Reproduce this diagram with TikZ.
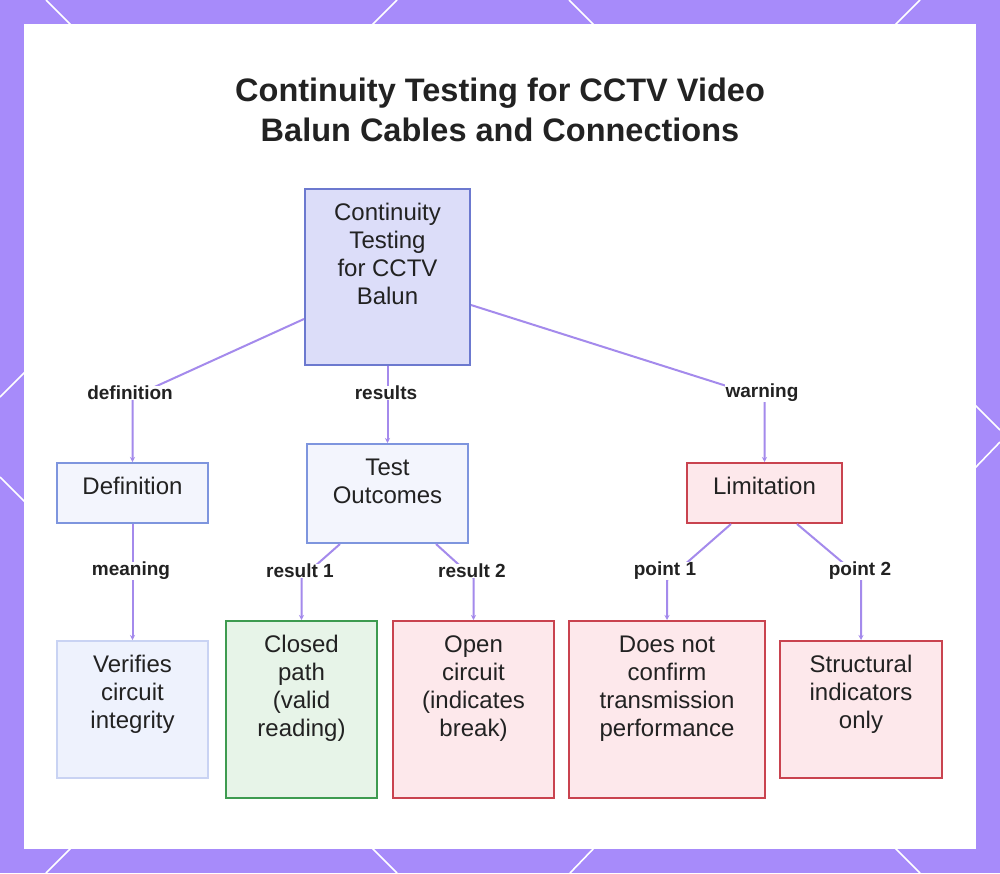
\documentclass[tikz,border=0pt]{standalone}
\usepackage{fontspec}
\setmainfont{Liberation Sans}
\usetikzlibrary{arrows.meta}
\definecolor{frame}{HTML}{A78BFA}
\definecolor{connc}{HTML}{A48AEC}
\definecolor{rootfill}{HTML}{DCDDF9}
\definecolor{rootdraw}{HTML}{6C79CF}
\definecolor{bluefill}{HTML}{F3F5FD}
\definecolor{bluedraw}{HTML}{7E95DE}
\definecolor{lightfill}{HTML}{EEF2FD}
\definecolor{lightdraw}{HTML}{C9D3F3}
\definecolor{redfill}{HTML}{FDE8EB}
\definecolor{reddraw}{HTML}{C9434F}
\definecolor{greenfill}{HTML}{E7F4E8}
\definecolor{greendraw}{HTML}{3E9B50}
\definecolor{txt}{HTML}{222222}
\newcommand\boxtxt[3]{\parbox[c][#2pt][t]{#1pt}{\centering\rule{0pt}{31.5pt}#3}}
\begin{document}
\begin{tikzpicture}[x=1pt,y=-1pt,
  bx/.style={anchor=north, inner sep=0pt, line width=2pt, text=txt,
    font=\fontsize{24}{28}\selectfont},
  rootbox/.style={bx, fill=rootfill, draw=rootdraw},
  bluebox/.style={bx, fill=bluefill, draw=bluedraw},
  lightbox/.style={bx, fill=lightfill, draw=lightdraw},
  redbox/.style={bx, fill=redfill, draw=reddraw},
  greenbox/.style={bx, fill=greenfill, draw=greendraw},
  conn/.style={draw=connc, line width=2pt, -{Stealth[length=5pt,width=5pt]}},
  lbl/.style={font=\fontsize{19}{21}\selectfont\bfseries, text=txt, fill=white, inner sep=0.5pt},
  deco/.style={draw=white, line width=1.6pt},
  ttl/.style={font=\fontsize{32.5}{40}\selectfont\bfseries, text=txt, align=center}]
\useasboundingbox (0,0) rectangle (1000,873);
\fill[frame] (0,0) rectangle (1000,873);
% border decoration
\draw[deco] (46,0) -- (72,26);
\draw[deco] (397,0) -- (371,26);
\draw[deco] (569,0) -- (595,26);
\draw[deco] (920,0) -- (894,26);
\draw[deco] (46,873) -- (72,847);
\draw[deco] (397,873) -- (371,847);
\draw[deco] (570,873) -- (595,847);
\draw[deco] (920,873) -- (894,847);
\draw[deco] (0,397) -- (26,371);
\draw[deco] (0,477) -- (26,503);
\draw[deco] (1000,430) -- (974,404);
\draw[deco] (1000,442) -- (974,469);
\fill[white] (24,24) rectangle (976,849);
% title
\node[ttl] (title) at (500,110) {Continuity Testing for CCTV Video\\Balun Cables and Connections};
% boxes
\node[rootbox] (root) at (387.5,188) {\boxtxt{165}{176}{Continuity\\Testing\\for CCTV\\Balun}};
\node[bluebox] (def) at (132.5,462) {\boxtxt{151}{60}{Definition}};
\node[bluebox] (test) at (387.5,443) {\boxtxt{161}{99}{Test\\Outcomes}};
\node[redbox] (lim) at (764.5,462) {\boxtxt{155}{60}{Limitation}};
\node[lightbox] (ver) at (132.5,640) {\boxtxt{151}{137}{Verifies\\circuit\\integrity}};
\node[greenbox] (closed) at (301.5,620) {\boxtxt{151}{177}{Closed\\path\\(valid\\reading)}};
\node[redbox] (open) at (473.5,620) {\boxtxt{161}{177}{Open\\circuit\\(indicates\\break)}};
\node[redbox] (dn) at (667,620) {\boxtxt{196}{177}{Does not\\confirm\\transmission\\performance}};
\node[redbox] (st) at (861,640) {\boxtxt{162}{137}{Structural\\indicators\\only}};
% connectors
\draw[conn] ([yshift=-42pt]root.west) -- (132.5,397) -- (def.north);
\draw[conn] (root.south) -- (test.north);
\draw[conn] ([yshift=-28pt]root.east) -- (764.5,398) -- (lim.north);
\draw[conn] (def.south) -- (ver.north);
\draw[conn] ([xshift=-47.5pt]test.south) -- (301.5,578) -- (closed.north);
\draw[conn] ([xshift=48.5pt]test.south) -- (473.5,578) -- (open.north);
\draw[conn] ([xshift=-33.5pt]lim.south) -- (667,580) -- (dn.north);
\draw[conn] ([xshift=32.5pt]lim.south) -- (861,578) -- (st.north);
% labels
\node[lbl] (l1) at (130,393) {definition};
\node[lbl] (l2) at (386,393) {results};
\node[lbl] (l3) at (762,393) {warning};
\node[lbl] (l4) at (131,571) {meaning};
\node[lbl] (l5) at (300,571) {result 1};
\node[lbl] (l6) at (472,571) {result 2};
\node[lbl] (l7) at (665,571) {point 1};
\node[lbl] (l8) at (860,571) {point 2};
\end{tikzpicture}
\end{document}
